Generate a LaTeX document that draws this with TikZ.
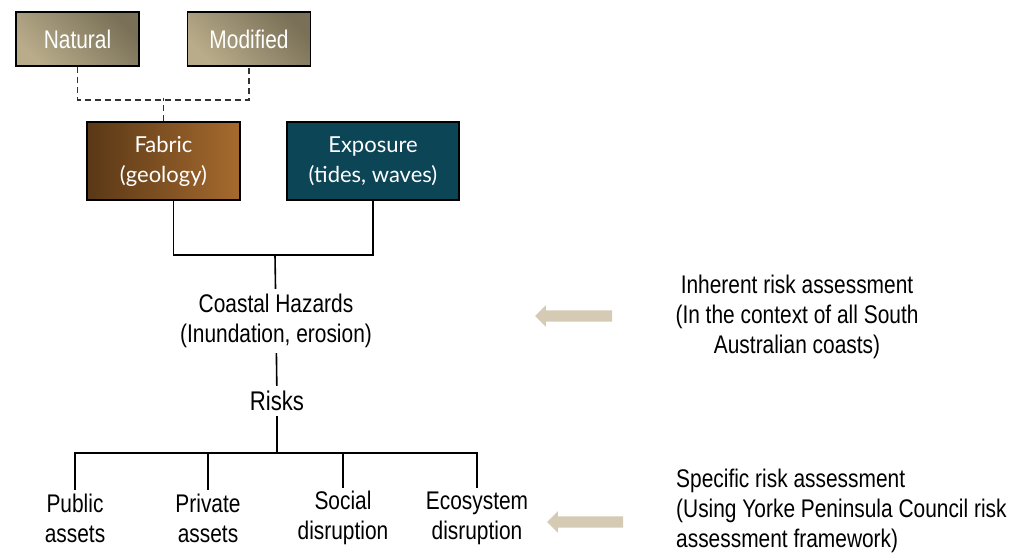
\documentclass[tikz,border=0pt]{standalone}
\usepackage{fontspec}
\setmainfont{Liberation Sans}[FakeStretch=0.82]
\newfontfamily\boxfont{Lato}
\usetikzlibrary{shapes.arrows}
\definecolor{natlight}{HTML}{B8AC8A}
\definecolor{natdark}{HTML}{7A7057}
\definecolor{fablight}{HTML}{A66A2E}
\definecolor{fabdark}{HTML}{5A3816}
\definecolor{expblue}{HTML}{0B4556}
\definecolor{arrtan}{HTML}{D5CBB5}
\tikzset{
  txt/.style={font=\fontsize{25.5}{30}\selectfont,align=center,inner sep=3pt},
  topbox/.style={draw=black,line width=1.6pt,minimum width=123pt,minimum height=54pt,
    top color=natdark,bottom color=natlight,shading angle=-45,text=white,
    font=\fontsize{25.5}{30}\selectfont},
  midbox/.style={draw=black,line width=1.6pt,minimum height=78pt,text=white,align=center,
    font=\boxfont\fontsize{22}{30}\selectfont},
  conn/.style={line width=1.6pt},
  dashconn/.style={line width=1.6pt,draw=black!80,dash pattern=on 6pt off 4pt},
  backarrow/.style={single arrow,fill=arrtan,draw=none,inner xsep=0pt,inner ysep=5.5pt,
    single arrow head extend=5pt,shape border rotate=180}
}
\begin{document}
\begin{tikzpicture}[x=1pt,y=-1pt]
\useasboundingbox (0,0) rectangle (1027,553);
\node[topbox] (nat) at (77.5,39) {Natural};
\node[topbox] (mod) at (249,39) {Modified};
\node[midbox,minimum width=153pt,left color=fabdark,right color=fablight] (fab) at (163.5,161) {Fabric\\(geology)};
\node[midbox,minimum width=172pt,fill=expblue] (exp) at (373,161) {Exposure\\(tides, waves)};
\draw[dashconn] (nat.south) -- ++(0,33) -| (mod.south);
\draw[dashconn] (fab.north) -- ++(0,-23);
\coordinate (join) at (275,255);
\draw[conn] ([xshift=10pt]fab.south) |- (join) -| (exp.south);
\node[txt,inner sep=5pt] (haz) at (276,321) {Coastal Hazards\\(Inundation, erosion)};
\node[txt,font=\fontsize{27}{30}\selectfont,inner sep=5pt] (risk) at (277,401) {Risks};
\draw[conn] (join) -- (haz);
\draw[conn] (haz) -- (risk);
\coordinate (split) at (277,453);
\draw[conn] (risk) -- (split);
\node[txt] (pub) at (75,518) {Public\\assets};
\node[txt] (priv) at (208,518) {Private\\assets};
\node[txt] (soc) at (343,518) {Social\\disruption};
\node[txt] (eco) at (477,518) {Ecosystem\\disruption};
\foreach \leaf in {pub,priv,soc,eco}
  \draw[conn] (split) -| (\leaf.north);
\node[txt] (inh) at (797,317) {Inherent risk assessment\\(In the context of all South\\Australian coasts)};
\node[txt,align=left,anchor=west] (spec) at (673,511) {Specific risk assessment\\(Using Yorke Peninsula Council risk\\assessment framework)};
\node[backarrow,minimum height=77pt] (arr1) at (576.5,316) {};
\node[backarrow,minimum height=76pt] (arr2) at (588,522) {};
\end{tikzpicture}
\end{document}
